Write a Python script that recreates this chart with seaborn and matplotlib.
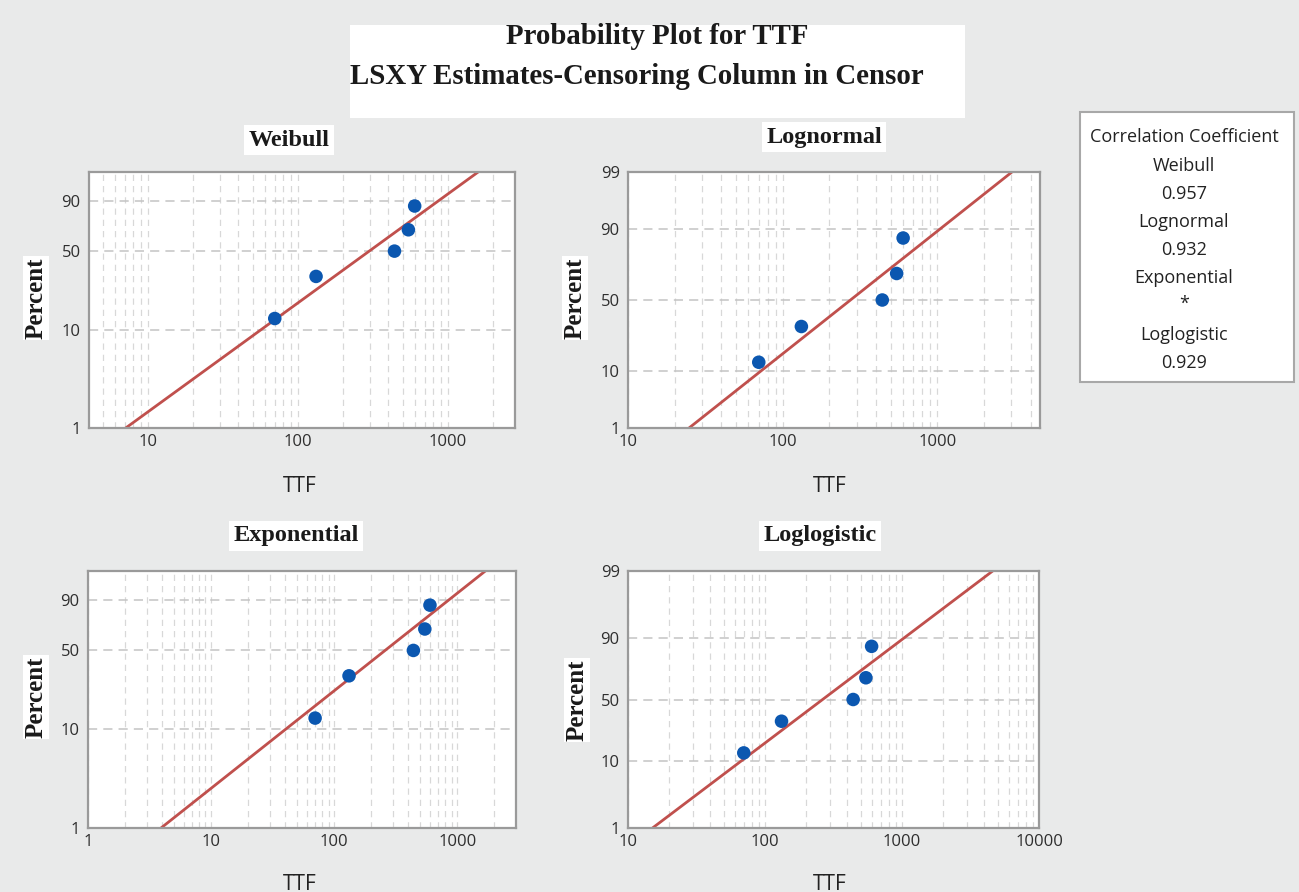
import numpy as np
import matplotlib
matplotlib.use("Agg")
import matplotlib.pyplot as plt
import seaborn as sns
import pandas as pd
from statistics import NormalDist
from matplotlib.patches import Rectangle
from matplotlib.ticker import LogLocator, FixedLocator, NullFormatter, FixedFormatter

# ---------------- data ----------------
ttf = [70, 132, 440, 545, 600]
percent = [12.9, 31.5, 50.0, 68.5, 87.0]

weibull_line_x = [7.1, 1590]
weibull_line_p = [1, 99]
lognormal_line_x = [24.8, 3030]
lognormal_line_p = [1, 99]
exponential_line_x = [3.92, 1690]
exponential_line_p = [1, 99]
loglogistic_line_x = [15.1, 4590]
loglogistic_line_p = [1, 99]

panel_names = ["Weibull", "Lognormal", "Exponential", "Loglogistic"]
corr_labels = ["Weibull", "0.957", "Lognormal", "0.932", "Exponential", "*", "Loglogistic", "0.929"]

# ---------------- probability scales ----------------
_nd = NormalDist()
EPS = 1e-9

def _clip(p):
    p = np.asarray(p, dtype=float)
    return np.clip(p, EPS, 100 - EPS) / 100.0

def weib_f(p):
    q = _clip(p)
    return np.log(-np.log(1 - q))

def weib_i(y):
    y = np.asarray(y, dtype=float)
    return 100 * (1 - np.exp(-np.exp(np.clip(y, -50, 5))))

def norm_f(p):
    q = _clip(p)
    return np.vectorize(_nd.inv_cdf, otypes=[float])(q)

def norm_i(y):
    y = np.asarray(y, dtype=float)
    return 100 * np.vectorize(_nd.cdf, otypes=[float])(y)

def logit_f(p):
    q = _clip(p)
    return np.log(q / (1 - q))

def logit_i(y):
    y = np.asarray(y, dtype=float)
    return 100 / (1 + np.exp(-np.clip(y, -50, 50)))

W, H = 1299, 892
fig = plt.figure(figsize=(W / 100, H / 100), dpi=100)
sns.set_style("white")
plt.rcParams["font.family"] = ["Open Sans", "DejaVu Sans"]
fig.patch.set_facecolor("#e9eaea")

def fx(x):
    return x / W

def fy(y):
    return 1 - y / H

def axes_px(l, t, r, b):
    return fig.add_axes([fx(l), fy(b), (r - l) / W, (b - t) / H])

panels = [
    dict(name="Weibull", box=(89, 172, 515, 428), xlim=(4.04, 2800), scale=(weib_f, weib_i),
         yt=[1, 10, 50, 90], lx=weibull_line_x, lp=weibull_line_p,
         xt=[10, 100, 1000], title_xy=(289, 140), pct_xy=(36, 298), ttf_xy=(300, 486)),
    dict(name="Lognormal", box=(628, 172, 1040, 428), xlim=(10, 4600), scale=(norm_f, norm_i),
         yt=[1, 10, 50, 90, 99], lx=lognormal_line_x, lp=lognormal_line_p,
         xt=[10, 100, 1000], title_xy=(824, 137), pct_xy=(575, 298), ttf_xy=(830, 486)),
    dict(name="Exponential", box=(88, 571, 516, 828), xlim=(1, 3000), scale=(weib_f, weib_i),
         yt=[1, 10, 50, 90], lx=exponential_line_x, lp=exponential_line_p,
         xt=[1, 10, 100, 1000], title_xy=(296, 536), pct_xy=(36, 697), ttf_xy=(300, 884)),
    dict(name="Loglogistic", box=(628, 571, 1039, 828), xlim=(10, 10000), scale=(logit_f, logit_i),
         yt=[1, 10, 50, 90, 99], lx=loglogistic_line_x, lp=loglogistic_line_p,
         xt=[10, 100, 1000, 10000], title_xy=(820, 536), pct_xy=(577, 700), ttf_xy=(830, 884)),
]

tick_color = "#2e2e2e"
for pnl in panels:
    ax = axes_px(*pnl["box"])
    ax.set_facecolor("white")
    ax.set_xscale("log")
    ax.set_yscale("function", functions=pnl["scale"])
    ax.set_xlim(*pnl["xlim"])
    ax.set_ylim(1, 99)

    ax.xaxis.set_major_locator(FixedLocator(pnl["xt"]))
    ax.xaxis.set_major_formatter(FixedFormatter([str(v) for v in pnl["xt"]]))
    ax.xaxis.set_minor_locator(LogLocator(base=10, subs=np.arange(2, 10)))
    ax.xaxis.set_minor_formatter(NullFormatter())
    ax.yaxis.set_major_locator(FixedLocator(pnl["yt"]))
    ax.yaxis.set_major_formatter(FixedFormatter([str(v) for v in pnl["yt"]]))
    ax.yaxis.set_minor_locator(FixedLocator([]))
    ax.grid(True, axis="x", which="both", color="#d8d8d8", linestyle=(0, (5, 4)), linewidth=0.9)
    ax.grid(True, axis="y", which="major", color="#c4c4c4", linestyle=(0, (6, 4)), linewidth=1.1)
    ax.set_axisbelow(True)

    for s in ax.spines.values():
        s.set_color("#9a9a9a")
        s.set_linewidth(1.6)

    ax.tick_params(axis="both", which="major", length=4, width=1, color="#9a9a9a",
                   labelsize=12, labelcolor=tick_color, pad=2)
    ax.tick_params(axis="both", which="minor", length=0)
    ax.tick_params(axis="x", which="major", length=0, pad=4)

    line_df = pd.DataFrame({"TTF": pnl["lx"], "Percent": pnl["lp"]})
    sns.lineplot(data=line_df, x="TTF", y="Percent", ax=ax, color="#c0504d",
                 linewidth=2.0, estimator=None, sort=False)
    pts = pd.DataFrame({"TTF": ttf, "Percent": percent})
    sns.scatterplot(data=pts, x="TTF", y="Percent", ax=ax, color="#0b57b0",
                    s=95, edgecolor="none", zorder=5)
    ax.set_xlim(*pnl["xlim"])
    ax.set_ylim(1, 99)
    ax.set_xlabel("")
    ax.set_ylabel("")

    tx, ty = pnl["title_xy"]
    fig.text(fx(tx), fy(ty), pnl["name"], ha="center", va="center",
             family="Liberation Serif", fontweight="bold", fontsize=17.5, color="#1a1a1a",
             bbox=dict(facecolor="white", edgecolor="none", pad=3))
    px_, py_ = pnl["pct_xy"]
    fig.text(fx(px_), fy(py_), "Percent", ha="center", va="center", rotation=90,
             family="Liberation Serif", fontweight="bold", fontsize=18, color="#1a1a1a",
             bbox=dict(facecolor="white", edgecolor="none", pad=1))
    ttx, tty = pnl["ttf_xy"]
    fig.text(fx(ttx), fy(tty), "TTF", ha="center", va="center", fontsize=15,
             color="#222222")

# title box
fig.add_artist(Rectangle((fx(350), fy(118)), (965 - 350) / W, (118 - 25) / H,
                         transform=fig.transFigure, facecolor="white", edgecolor="none", zorder=0))
fig.text(fx(657), fy(36), "Probability Plot for TTF", ha="center", va="center",
         family="Liberation Serif", fontweight="bold", fontsize=20.8, color="#1a1a1a")
fig.text(fx(637), fy(77), "LSXY Estimates-Censoring Column in Censor", ha="center", va="center",
         family="Liberation Serif", fontweight="bold", fontsize=20.8, color="#1a1a1a")

# correlation box
fig.add_artist(Rectangle((fx(1080), fy(382)), (1294 - 1080) / W, (382 - 112) / H,
                         transform=fig.transFigure, facecolor="white", edgecolor="#a8a8a8",
                         linewidth=1.5, zorder=0))
fig.text(fx(1184), fy(137), "Correlation Coefficient", ha="center", va="center",
         fontsize=13, color="#222222")
ys = [166, 194, 222, 250, 278, 304, 335, 363]
for lab, yy in zip(corr_labels, ys):
    fig.text(fx(1184), fy(yy), lab, ha="center", va="center", fontsize=13, color="#222222")

fig.savefig("out.png", dpi=100, facecolor=fig.get_facecolor())
